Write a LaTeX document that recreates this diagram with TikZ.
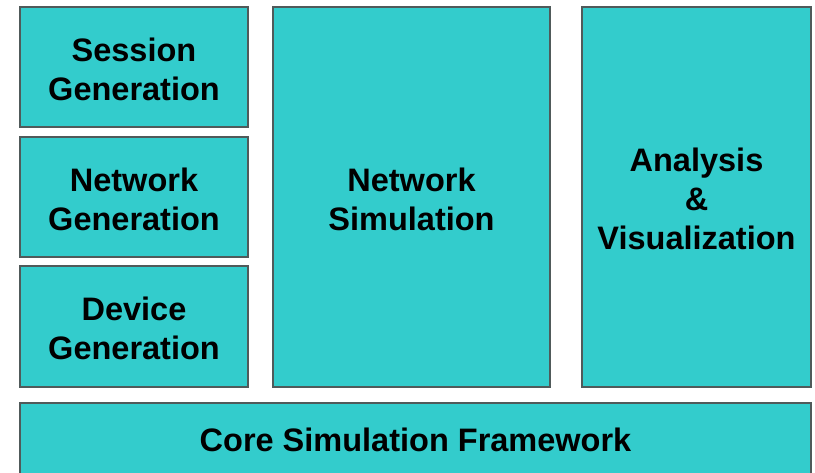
\documentclass[tikz,border=0pt]{standalone}
\usepackage{fontspec}
\setmainfont{Liberation Sans}
\definecolor{boxfill}{HTML}{33CCCC}
\definecolor{boxline}{HTML}{505A5A}
\begin{document}
\begin{tikzpicture}[x=1pt,y=-1pt,
  blk/.style={draw=boxline,fill=boxfill,line width=1.3pt},
  lbl/.style={font=\fontsize{32.5}{39}\selectfont\bfseries,align=center,inner sep=0pt}]
\useasboundingbox (0,0) rectangle (815,473);
\clip (0,0) rectangle (815,473);
\draw[blk] (20,7) rectangle (248,127);
\node[lbl] (sg) at (134,69) {Session\\Generation};
\draw[blk] (20,137) rectangle (248,257);
\node[lbl] (ng) at (134,199) {Network\\Generation};
\draw[blk] (20,266) rectangle (248,387);
\node[lbl] (dg) at (134,328) {Device\\Generation};
\draw[blk] (273,7) rectangle (550,387);
\node[lbl] (ns) at (411.5,199) {Network\\Simulation};
\draw[blk] (582,7) rectangle (811,387);
\node[lbl] (av) at (696.5,199) {Analysis\\\&\\Visualization};
\draw[blk] (20,403) rectangle (811,490);
\node[lbl] (core) at (415.5,440) {Core Simulation Framework};
\end{tikzpicture}
\end{document}
